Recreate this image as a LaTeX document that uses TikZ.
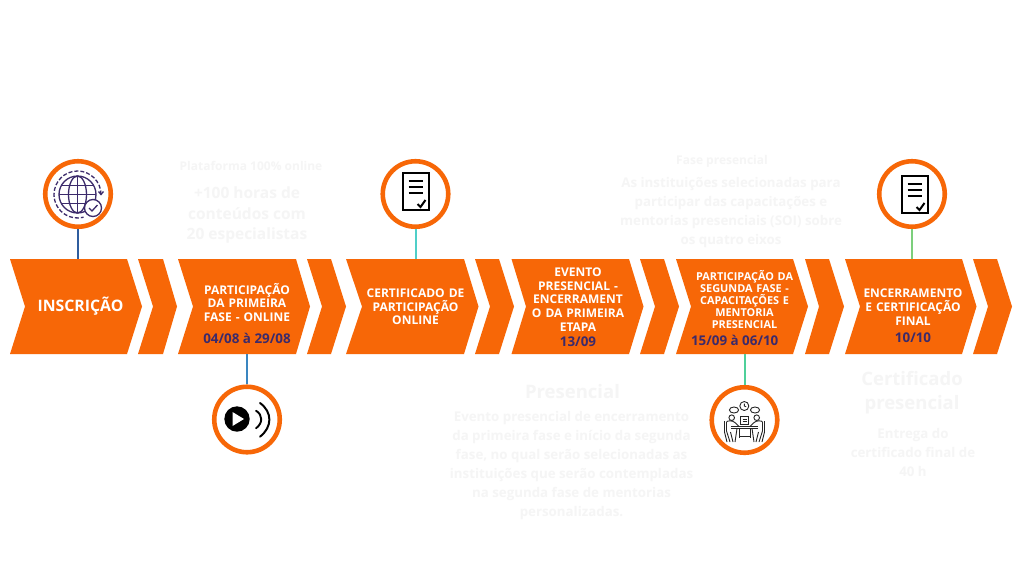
\documentclass[tikz,border=0pt]{standalone}
\usepackage{fontspec}
\setmainfont{Open Sans}
\definecolor{orangeA}{HTML}{F76707}
\definecolor{navyA}{HTML}{3B2A6B}
\definecolor{ghost}{HTML}{F5F5F5}
\definecolor{linkA}{HTML}{2F5D9E}
\definecolor{linkB}{HTML}{3A86C0}
\definecolor{linkC}{HTML}{4FCFC8}
\definecolor{linkD}{HTML}{4FD09A}
\definecolor{linkE}{HTML}{7CCF7C}
\tikzset{
  x=1pt,y=-1pt,
  chevfill/.style={fill=orangeA,draw=none},
  chevbox/.style={inner sep=0pt,text width=#1,align=center,font=\fontsize{12}{13.7}\selectfont\bfseries,text=white},
  ring/.style={circle,draw=orangeA,line width=4.6pt,fill=white,minimum size=65.5pt,inner sep=0pt},
  conn/.style={line width=2pt},
  ghosthead/.style={text=ghost,align=center,font=\fontsize{#1}{#1}\selectfont\bfseries},
  ghostbody/.style={text=ghost,align=center,font=\fontsize{13.3}{19}\selectfont\bfseries},
  ghostbig/.style={text=ghost,align=center,font=\fontsize{15.5}{20.5}\selectfont\bfseries},
  dateA/.style={text=navyA,font=\fontsize{13.4}{14}\selectfont\bfseries,inner sep=0pt},
  docline/.style={black,line width=2pt},
  globeline/.style={navyA,line width=1.3pt},
  meet/.style={black!85,line width=.9pt},
}
\newcommand{\chev}[5]{% left, notch, right top, tip, name
  \fill[chevfill] (#1,259) -- (#3,259) -- (#4,306.5) -- (#3,354) -- (#1,354) -- (#2,306.5) -- cycle;
  \node[inner sep=0pt,minimum width=#3pt-#1pt,minimum height=95pt] (#5) at ({(#1+#3)/2},306.5) {};
}
\newcommand{\smallchev}[4]{% left, notch, right top, tip
  \fill[chevfill] (#1,259) -- (#3,259) -- (#4,306.5) -- (#3,354) -- (#1,354) -- (#2,306.5) -- cycle;
}
\newcommand{\docicon}[2]{%
  \begin{scope}[shift={(#1,#2)}]
    \draw[docline] (0,0) rectangle (26,37);
    \draw[docline] (6,7.5) -- (20,7.5) (6,13.5) -- (20,13.5) (6,19.5) -- (20,19.5);
    \draw[black,line width=2pt] (15,31) -- (18,34) -- (23,27);
  \end{scope}
}
\begin{document}
\begin{tikzpicture}
\useasboundingbox[fill=white] (0,0) rectangle (1024,576);
% chevrons
\chev{10}{25}{127}{142}{ch1}      \smallchev{138}{153}{163}{177}
\chev{178}{193}{296}{310}{ch2}    \smallchev{307}{322}{331}{346}
\chev{346}{362}{464}{478.5}{ch3}  \smallchev{475}{490}{499}{514}
\chev{511.5}{526}{629}{643.5}{ch4}\smallchev{640}{655}{664}{679}
\chev{676}{691}{793}{808}{ch5}    \smallchev{805}{819}{829}{844}
\chev{845}{860}{962}{976.5}{ch6}  \smallchev{973}{988}{997}{1012}
% rings
\node[ring] (r1) at (78,194) {};
\node[ring] (r2) at (247,419.5) {};
\node[ring] (r3) at (415.5,194) {};
\node[ring] (r4) at (744.5,420) {};
\node[ring] (r5) at (912,194) {};
% connectors
\draw[conn,linkA] (r1.south) -- (r1.south |- ch1.north);
\draw[conn,linkB] (r2.north) -- (r2.north |- ch2.south);
\draw[conn,linkC] (r3.south) -- (r3.south |- ch3.north);
\draw[conn,linkD] (r4.north) -- (r4.north |- ch5.south);
\draw[conn,linkE] (r5.south) -- (r5.south |- ch6.north);
% chevron labels
\node[text=white,font=\fontsize{15.8}{16}\selectfont\bfseries,inner sep=0pt] (t1) at (80.5,306.5) {INSCRIÇÃO};
\node[chevbox=110pt] (t2) at (247,302.5) {PARTICIPAÇÃO\\DA PRIMEIRA\\FASE - ONLINE};
\node[dateA] (d2) at (247,338) {04/08 à 29/08};
\node[chevbox=110pt] (t3) at (415.5,307) {CERTIFICADO DE\\PARTICIPAÇÃO\\ONLINE};
\node[chevbox=110pt] (t4) at (578,299.5) {EVENTO\\PRESENCIAL -\\ENCERRAMENT\\O DA PRIMEIRA\\ETAPA};
\node[dateA] (d4) at (578,342) {13/09};
\node[chevbox=110pt,font=\fontsize{10.9}{12}\selectfont\bfseries] (t5) at (744.5,299.5) {PARTICIPAÇÃO DA\\SEGUNDA FASE -\\CAPACITAÇÕES E\\MENTORIA\\PRESENCIAL};
\node[dateA] (d5) at (734.7,340.5) {15/09 à 06/10};
\node[chevbox=110pt] (t6) at (913,307) {ENCERRAMENTO\\E CERTIFICAÇÃO\\FINAL};
\node[dateA] (d6) at (913,338) {10/10};
% near-invisible white texts
\node[ghosthead=12] (g1) at (251,166) {Plataforma 100\% online};
\node[ghostbig] (g2) at (247,215) {+100 horas de\\conteúdos com\\20 especialistas};
\node[ghosthead=12] (g3) at (722,161) {Fase presencial};
\node[ghostbody] (g4) at (731,213) {As instituições selecionadas para\\participar das capacitações e\\mentorias presenciais (SOI) sobre\\os quatro eixos};
\node[ghosthead=18.5] (g5) at (572.5,392) {Presencial};
\node[ghostbody] (g6) at (571.5,465.5) {Evento presencial de encerramento\\da primeira fase e início da segunda\\fase, no qual serão selecionadas as\\instituições que serão contempladas\\na segunda fase de mentorias\\personalizadas.};
\node[ghostbig,font=\fontsize{18.5}{24}\selectfont\bfseries] (g7) at (912,392.5) {Certificado\\presencial};
\node[ghostbody] (g8) at (913,453) {Entrega do\\certificado final de\\40 h};
% globe icon
\begin{scope}[shift={(77.5,194.5)}]
  \draw[globeline] (0,0) circle (18.5);
  \draw[globeline] (0,0) ellipse (9 and 18.5);
  \draw[globeline] (0,-18.5) -- (0,18.5) (-18.5,0) -- (18.5,0);
  \draw[globeline] (-16,-9) -- (16,-9) (-16,9) -- (16,9);
  \draw[globeline,dash pattern=on 4pt off 2pt] (23.5,0) arc[start angle=0,end angle=-285,radius=23.5];
  \draw[globeline] (21,-3) -- (23.5,0) -- (26,-3);
  \draw[navyA,fill=white,line width=1.3pt] (15.5,13.5) circle (8.5);
  \draw[navyA,line width=1.3pt] (11.5,13.5) -- (14.5,16.5) -- (20,10.5);
\end{scope}
% documents
\docicon{402.5}{173}
\docicon{901.5}{176}
% play icon
\fill[black] (237,419) circle (12.7);
\fill[white] (232.5,412) -- (244,419) -- (232.5,426) -- cycle;
\draw[black,line width=1.9pt,line cap=round] (256,410.7) .. controls (263,415) and (263,423) .. (256,428.3);
\draw[black,line width=2pt,line cap=round] (260,403) .. controls (272.5,412) and (272.5,427) .. (260,436.7);
% meeting icon
\begin{scope}[meet]
  \draw (744.3,406) circle (4.5);
  \draw (744.3,403.5) -- (744.3,406) -- (746.2,406.8);
  \draw (734,410) ellipse (4.6 and 3);
  \draw (755,410) ellipse (4.6 and 3);
  \draw (740.7,416) rectangle (748.3,424);
  \draw (742.5,419) -- (746.5,419) (742.5,421) -- (746.5,421);
  \draw (731.7,417.7) circle (2.8);
  \draw (756.7,417.7) circle (2.8);
  \draw (731,426.5) -- (758,426.5) (731,428.5) -- (758,428.5);
  \draw (737,428.5) -- (735,442) (752,428.5) -- (754,442);
  \draw (739,428.5) -- (739,438) (750,428.5) -- (750,438) (739,436) -- (750,436);
  \draw (726.5,422) .. controls (727,420.5) and (733,420) .. (735.5,423) -- (739,426.5);
  \draw (726.5,422) -- (726.5,431) -- (730,442) (733,442) -- (730.5,432);
  \draw (762.5,422) .. controls (762,420.5) and (756,420) .. (753.5,423) -- (750,426.5);
  \draw (762.5,422) -- (762.5,431) -- (759,442) (756,442) -- (758.5,432);
  \draw (724.5,421) -- (724.5,432) -- (727,442);
  \draw (764.5,421) -- (764.5,432) -- (762,442);
\end{scope}
\end{tikzpicture}
\end{document}
